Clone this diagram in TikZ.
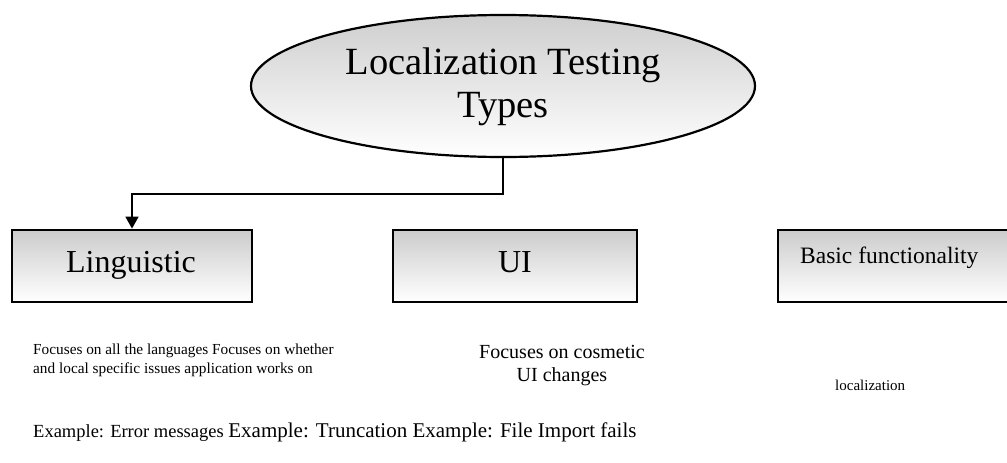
\documentclass[tikz,border=0pt]{standalone}
\usepackage{fontspec}
\setmainfont{Liberation Serif}
\usetikzlibrary{shapes.geometric,arrows.meta}
\tikzset{
  boxshape/.style={draw=black, line width=2.8pt, rectangle, top color=gray!40, bottom color=white, inner sep=0pt},
  titleshape/.style={draw=black, line width=2.2pt, ellipse, top color=gray!38, bottom color=white, inner sep=0pt, align=center},
  conn/.style={draw=black, line width=1.8pt, -{Triangle[length=12pt,width=13pt]}},
  txt/.style={inner sep=0pt, font=\fontsize{#1}{#1}\selectfont},
}
\begin{document}
\begin{tikzpicture}[x=1pt,y=-1pt]
\useasboundingbox (0,0) rectangle (1007,463);
\clip (0,0) rectangle (1007,463);
\node[titleshape, minimum width=504pt, minimum height=142pt, font=\fontsize{38.5}{43}\selectfont, text depth=6pt] (title) at (503,86) {Localization Testing\\Types};
\node[boxshape, minimum width=240pt, minimum height=72pt] (ling) at (132,266) {};
\node[boxshape, minimum width=244pt, minimum height=72pt] (ui) at (515,266) {};
\node[boxshape, minimum width=250pt, minimum height=72pt] (basic) at (903,266) {};
\node[txt=32, anchor=base] (lingt) at (131,272) {Linguistic};
\node[txt=32, anchor=base] (uit) at (515,272) {UI};
\node[txt=23.5, anchor=base west] (basict) at (800,263) {Basic functionality};
\draw[conn] (title.south) -- ++(0,36) -| (ling.north);
\node[anchor=base west, align=left, inner sep=0pt, font=\fontsize{15.3}{19}\selectfont] (lingd) at (33,373) {Focuses on all the languages Focuses on whether\\and local specific issues application works on};
\node[anchor=base, align=center, inner sep=0pt, font=\fontsize{20}{23}\selectfont] (uid) at (562,381) {Focuses on cosmetic\\UI changes};
\node[txt=15, anchor=base west] (basicd) at (835,390) {localization};
\node[anchor=base west, inner sep=0pt] (ex) at (33,437) {\fontsize{18.5}{18.5}\selectfont Example: Error messages \fontsize{21}{21}\selectfont Example: Truncation Example: File Import fails};
\end{tikzpicture}
\end{document}
